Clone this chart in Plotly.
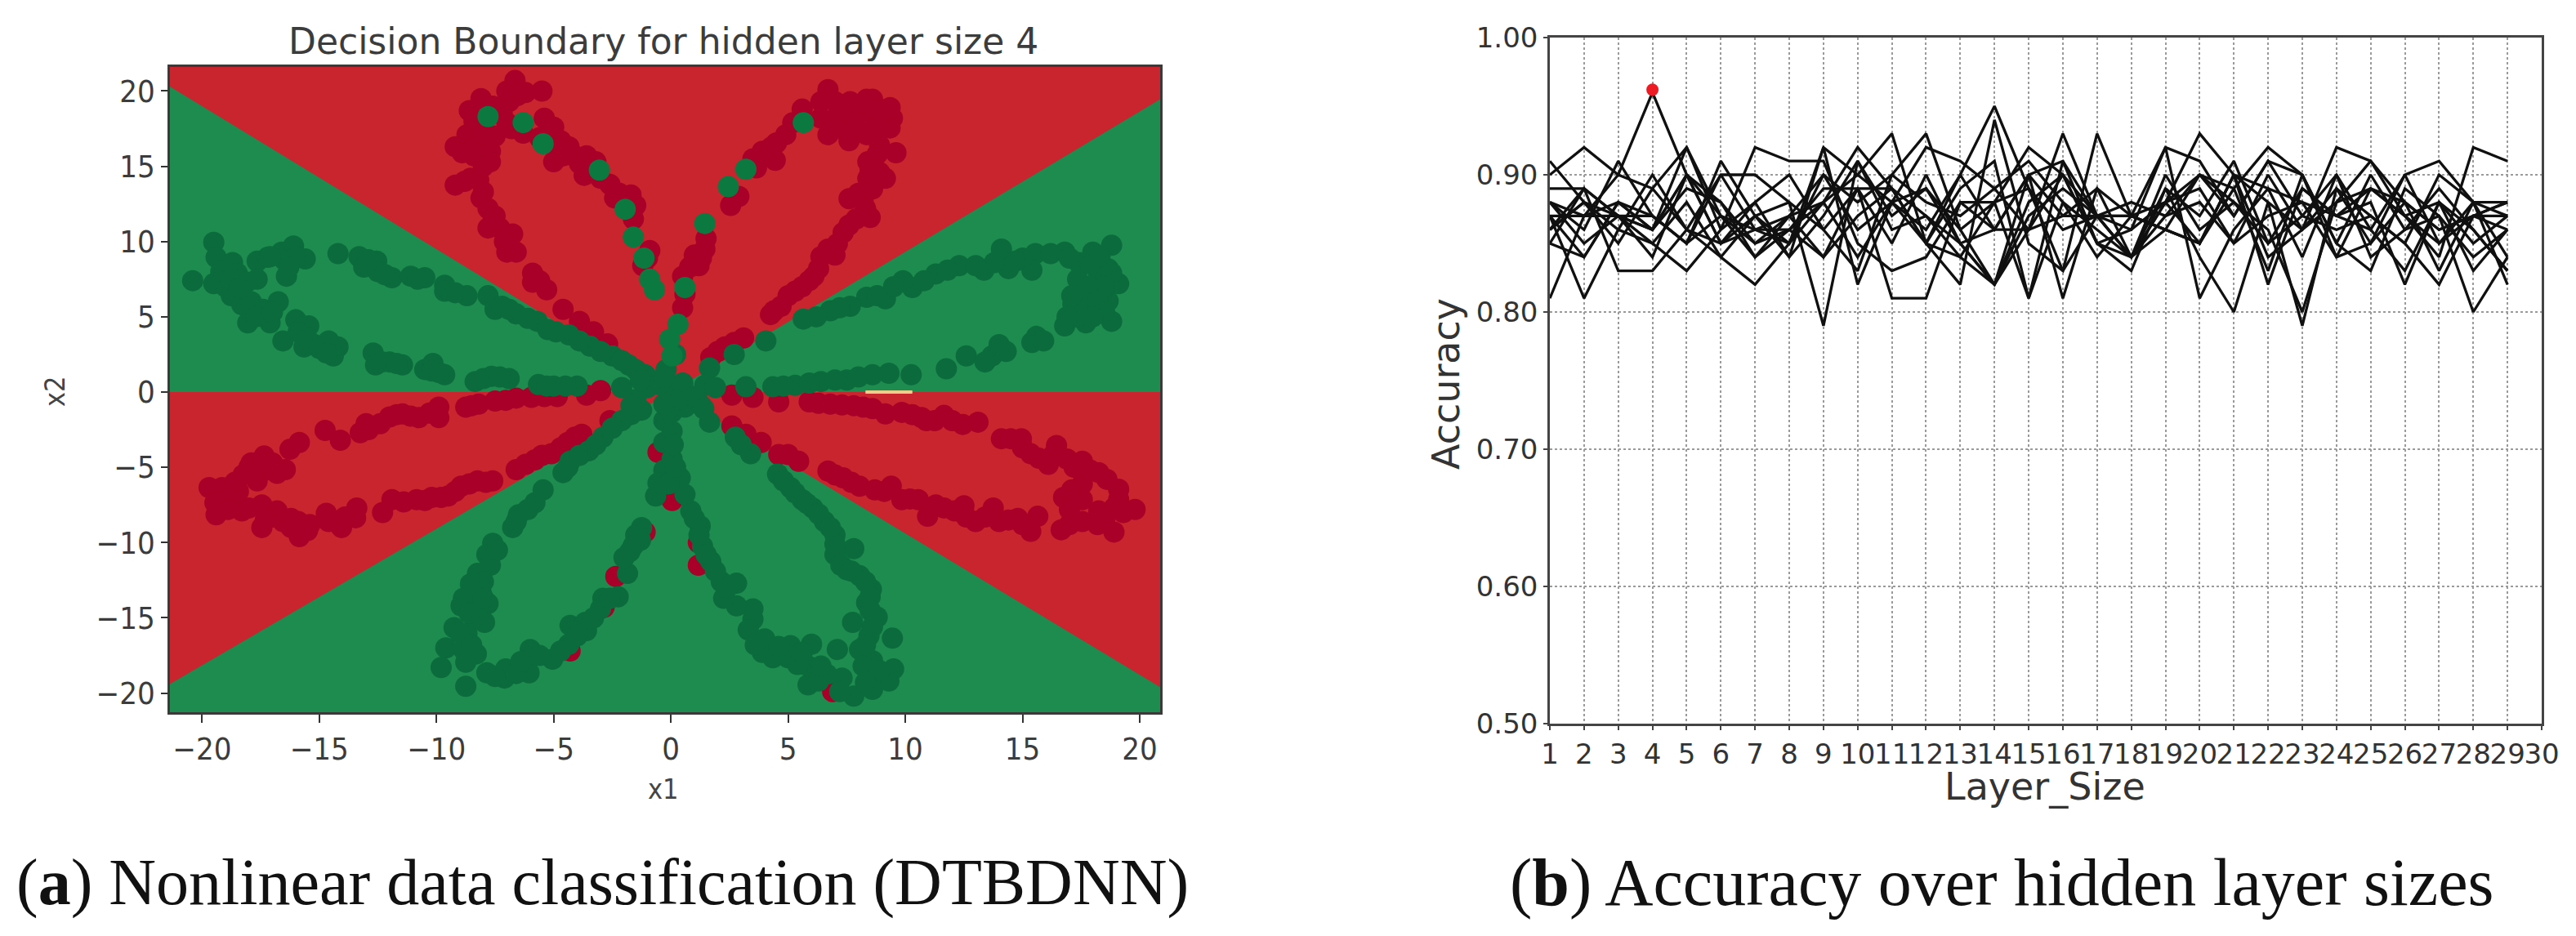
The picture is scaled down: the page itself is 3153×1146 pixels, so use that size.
import plotly.graph_objects as go

W, H = 3153, 1146

# ---- panel (a) data ----
x_ticks_a = [-20, -15, -10, -5, 0, 5, 10, 15, 20]
y_ticks_a = [-20, -15, -10, -5, 0, 5, 10, 15, 20]
x_range_a = [-21.37, 20.87]
y_range_a = [-21.27, 21.6]
title_a = "Decision Boundary for hidden layer size 4"

red_top_x = [-21.37, 0, 20.87, 20.87, -21.37]
red_top_y = [20.3, 0, 19.45, 21.6, 21.6]
red_left_x = [-21.37, 0, -21.37]
red_left_y = [0, 0, -19.4]
red_right_x = [0, 20.87, 20.87]
red_right_y = [0, 0, -19.6]
green_all_x = [-21.37, 20.87, 20.87, -21.37]
green_all_y = [-21.27, -21.27, 21.6, 21.6]
yellow_x = [8.3, 10.3]
yellow_y = [0, 0]

red_pts = [
 (-6.65,20.7),(-5.5,20.0),(-6.55,19.7),(-6.9,19.3),(-8.1,19.5),(-8.6,18.7),(-7.2,18.5),(-6.8,17.5),(-6.3,17.2),
 (-5.4,18.2),(-5.0,17.6),(-4.7,16.7),(-4.35,16.3),(-5.0,15.3),(-4.6,15.7),(-4.1,15.7),(-3.6,15.7),(-3.7,14.4),
 (-3.2,15.3),(-2.6,13.8),(-2.4,12.9),(-1.7,13.1),(-1.6,11.5),(-0.9,9.4),(-1.2,8.4),(-9.2,16.3),(-8.7,17.1),
 (-8.1,16.6),(-7.7,16.0),(-8.4,15.7),(-7.7,15.3),(-9.2,13.75),(-8.55,14.2),(-8.2,14.1),(-8.1,12.9),(-7.8,12.2),
 (-7.5,11.7),(-7.8,10.9),(-7.3,10.9),(-6.75,10.5),(-7.0,9.3),(-6.6,9.3),(-5.9,7.9),(-5.9,7.3),(-5.3,6.8),
 (-4.6,5.5),(-3.9,4.7),(-3.3,4.0),(-2.7,3.2),
 (-8.4,18.0),(-8.5,16.2),(-8.0,17.2),(-7.5,17.0),(-8.9,15.9),(-8.0,15.0),(-8.8,14.0),(-8.0,13.3),(-7.6,11.3),(-7.1,10.0),
 (-6.9,9.8),(-5.6,7.4),(-4.3,16.0),(-3.9,15.2),(-3.4,14.8),(-3.0,14.2),(-2.2,13.2),(-1.5,12.4),(-1.0,8.9),(-5.6,16.9),
 (-4.8,16.2),(-7.0,20.0),(-6.2,19.9),(-7.6,19.0),(-7.0,17.9),
 (6.7,20.1),(6.4,19.3),(7.0,19.3),(7.65,19.3),(8.35,19.45),(8.6,19.45),(9.35,18.9),(9.45,18.2),(9.35,17.55),
 (8.05,18.55),(8.6,18.2),(7.7,17.8),(6.7,18.0),(6.7,17.1),(6.4,18.2),(7.6,16.7),(8.35,17.1),(8.9,16.4),(9.6,15.9),
 (8.4,15.3),(9.15,14.2),(8.4,14.2),(8.6,13.5),(7.6,12.85),(8.2,12.75),(8.5,11.6),(7.9,11.5),(7.35,10.6),(7.1,9.85),
 (6.4,9.0),(7.0,9.1),(6.1,7.7),(5.6,7.0),(5.0,6.4),(4.7,5.7),(4.25,5.15),(5.6,18.8),(4.9,17.1),(4.5,16.55),(3.9,16.0),
 (4.45,15.4),(3.65,14.9),(2.55,12.4),(1.5,10.2),(1.45,9.5),(1.0,9.1),(1.2,8.4),(0.5,7.7),(0.5,5.6),(3.1,3.6),(2.3,3.0),(1.7,2.3),
 (7.2,18.7),(7.0,17.5),(7.9,18.0),(8.2,17.6),(8.9,18.8),(9.0,17.5),(8.8,15.8),(8.5,14.8),(8.9,14.6),(8.0,13.2),(8.3,12.2),
 (7.6,11.1),(6.7,9.5),(6.3,8.2),(5.9,7.4),(5.3,6.7),(4.4,5.4),(5.2,17.9),(4.3,16.3),(3.5,15.5),(2.9,13.0),(1.3,8.9),(0.8,8.3),
 (0.6,6.5),(2.7,3.3),(2.0,2.7),
 (-15.85,-3.35),(-16.25,-3.8),(-14.75,-2.55),(-14.1,-3.2),(-13.25,-2.7),(-13.0,-2.1),(-12.4,-2.1),(-12.0,-1.65),
 (-11.45,-1.45),(-10.75,-1.7),(-9.9,-1.0),(-9.9,-1.7),(-8.75,-1.0),(-8.2,-0.8),(-7.05,-0.55),(-5.95,-0.35),(-4.85,-0.3),
 (-3.6,-0.2),(-3.0,0.1),(-17.35,-4.25),(-17.9,-4.7),(-17.2,-5.15),(-18.25,-5.5),(-16.45,-5.15),(-17.65,-5.9),
 (-19.7,-6.35),(-19.15,-6.35),(-18.45,-6.6),(-19.45,-7.35),(-19.4,-8.15),(-18.3,-7.9),(-17.45,-7.5),(-16.8,-7.9),
 (-17.45,-9.0),(-16.55,-8.6),(-15.85,-9.6),(-15.9,-8.6),(-15.4,-8.8),(-14.7,-8.05),(-14.05,-9.0),(-13.4,-7.7),(-13.45,-8.35),
 (-12.3,-8.0),(-11.9,-7.15),(-10.85,-7.15),(-10.2,-7.0),(-9.5,-6.9),(-8.95,-6.25),(-8.25,-5.9),(-7.6,-5.9),(-6.6,-5.15),
 (-5.8,-4.5),(-5.1,-4.1),(-4.4,-3.35),(-3.8,-2.8),(-2.6,-1.9),
 (-18.0,-5.0),(-17.7,-5.2),(-18.6,-6.0),(-17.0,-4.7),(-16.8,-5.4),(-18.9,-7.0),(-18.9,-7.8),(-18.0,-7.7),(-17.0,-8.3),(-17.3,-8.5),
 (-16.2,-8.4),(-16.2,-9.0),(-15.5,-9.2),(-14.6,-8.6),(-13.9,-8.3),(-11.4,-7.3),(-10.5,-7.2),(-9.8,-7.0),(-9.2,-6.6),(-8.6,-6.1),
 (-7.9,-6.0),(-12.9,-2.5),(-11.7,-1.5),(-11.1,-1.6),(-10.3,-1.4),(-6.2,-4.8),(-5.5,-4.2),(-4.7,-3.7),(-4.1,-3.0),(-8.5,-0.9),
 (-7.5,-0.6),(-6.6,-0.4),(-5.4,-0.3),
 (-2.35,-12.25),(-4.3,-17.2),(-2.85,-14.3),(-1.1,-9.3),(-0.55,-4.0),(0.0,-6.6),
 (5.9,-0.65),(6.8,-0.8),(7.8,-0.9),(8.6,-1.1),(9.15,-1.45),(9.85,-1.35),(10.7,-1.7),(11.25,-1.9),(11.65,-1.55),(12.45,-2.15),(13.1,-2.0),
 (14.1,-3.1),(14.95,-3.1),(15.35,-4.1),(16.1,-4.8),(16.45,-3.55),(16.9,-4.45),(17.55,-4.6),(18.25,-5.35),(19.1,-6.45),(17.55,-6.1),
 (16.75,-7.0),(17.55,-7.15),(18.25,-7.9),(19.1,-7.15),(19.8,-7.8),(18.9,-9.3),(16.65,-9.15),(17.55,-8.6),(18.2,-8.8),(15.65,-8.25),
 (15.35,-9.25),(14.8,-8.4),(13.75,-7.7),(14.0,-8.6),(13.0,-8.6),(12.5,-7.55),(11.65,-7.7),(10.95,-8.25),(10.55,-7.15),(9.85,-7.15),
 (9.4,-6.25),(9.1,-6.6),(8.05,-6.25),(7.35,-5.7),(6.7,-5.25),(5.45,-4.6),(5.0,-4.15),(4.6,-4.15),(3.85,-3.35),(3.2,-2.8),(2.6,-2.25),
 (14.5,-3.1),(15.0,-3.7),(15.7,-4.4),(16.3,-4.2),(17.2,-5.0),(17.9,-5.2),(18.6,-5.8),(17.1,-6.5),(17.0,-7.8),(18.9,-7.7),(19.3,-8.0),
 (18.5,-8.5),(17.0,-8.8),(15.0,-8.8),(14.4,-8.5),(13.4,-8.3),(12.6,-8.3),(12.1,-7.9),(11.3,-7.5),(10.2,-7.1),(8.7,-6.5),(7.7,-6.0),
 (7.0,-5.5),(6.3,-0.75),(7.3,-0.85),(8.2,-1.0),(10.3,-1.5),(10.9,-1.9),(12.0,-1.9),
 (2.6,-0.2),(4.6,-0.65),(3.5,-0.35),(1.17,-11.5),(1.17,-10.0),(-0.05,-6.8),(0.05,-7.2),(6.9,-19.9),
]

green_on_red_pts = [
 (-7.8,18.3),(-6.3,17.9),(-5.45,16.5),(-3.05,14.75),(-1.95,12.15),(-1.6,10.3),(-1.15,8.9),(-0.9,7.5),(-0.7,6.8),
 (5.65,17.9),(3.2,14.8),(2.45,13.65),(1.45,11.2),(0.6,6.95),(0.3,4.5),(-0.05,3.5),(0.05,2.4),
]

green_pts = [
 (-19.5,9.95),(-19.4,8.95),(-18.7,8.6),(-20.4,7.4),(-19.5,7.2),(-19.0,7.0),(-18.5,7.9),(-17.65,8.7),(-17.65,7.5),(-18.1,7.3),
 (-17.2,8.95),(-16.6,9.3),(-16.1,9.7),(-15.6,8.85),(-16.4,7.7),(-16.5,8.8),(-14.2,9.2),(-13.3,9.0),(-12.55,8.7),(-13.1,8.3),
 (-12.5,8.0),(-11.9,7.6),(-11.1,7.7),(-10.5,7.6),(-9.65,7.1),(-9.65,6.7),(-8.7,6.4),(-7.8,6.4),(-7.5,5.5),(-6.6,5.2),(-5.7,4.7),
 (-5.25,4.15),(-4.35,3.8),(-3.45,3.05),(-2.5,2.4),(-1.8,1.8),(-1.1,1.15),
 (-18.75,6.4),(-18.3,5.8),(-17.9,6.0),(-18.05,4.6),(-17.4,5.5),(-16.75,6.0),(-17.1,4.6),(-16.0,4.8),(-15.45,4.4),(-16.55,3.4),
 (-15.65,3.0),(-15.2,3.15),(-14.6,3.4),(-14.2,3.0),(-14.4,2.4),(-12.7,2.6),(-12.6,1.8),(-12.0,2.0),(-11.45,1.8),(-10.5,1.5),
 (-10.15,1.9),(-9.65,1.15),(-8.35,0.7),(-7.65,1.05),(-6.9,0.9),(-5.65,0.5),(-5.0,0.4),(-4.0,0.4),
 (-19.2,8.0),(-18.8,7.5),(-18.4,6.9),(-17.1,9.0),(-16.0,9.0),(-16.3,8.3),(-12.9,8.8),(-12.2,7.8),(-10.8,7.5),(-9.2,6.6),(-7.2,5.7),
 (-6.9,5.5),(-6.1,4.9),(-4.9,4.0),(-3.9,3.4),(-3.0,2.7),(-2.1,2.1),(-1.5,1.5),(-17.7,5.0),(-17.0,5.3),(-15.9,4.0),(-15.5,3.5),
 (-15.0,2.9),(-14.7,2.6),(-12.3,2.0),(-11.7,1.9),(-10.2,1.4),(-9.9,1.3),(-8.0,0.9),(-7.3,1.0),(-5.3,0.4),(-4.5,0.4),
 (18.8,9.75),(18.0,9.3),(16.8,9.3),(15.55,9.2),(15.4,8.1),(14.1,9.5),(14.4,8.2),(13.35,8.1),(12.3,8.4),(11.3,7.85),(10.3,6.95),
 (9.9,7.4),(9.15,6.2),(8.35,6.3),(7.65,5.7),(6.8,5.4),(5.65,4.85),(4.05,3.4),(2.7,2.5),(1.65,1.6),
 (17.4,8.6),(18.65,8.2),(19.1,7.2),(17.35,7.5),(18.25,7.85),(18.1,6.8),(18.65,6.05),(17.7,5.7),(18.8,4.7),(17.15,5.85),(16.8,4.4),
 (17.7,4.6),(15.6,3.7),(13.7,2.4),(14.0,3.15),(12.6,2.4),(11.75,1.55),(10.25,1.15),(9.3,1.25),(8.6,1.15),(7.5,0.8),(6.4,0.7),
 (5.3,0.45),(4.35,0.35),(3.2,0.35),(1.45,0.45),(0.5,0.6),
 (17.9,8.5),(18.3,9.0),(17.0,8.9),(18.8,7.9),(18.5,7.0),(17.8,7.0),(17.6,6.3),(18.2,6.0),(18.5,5.3),(17.3,5.0),(16.9,5.0),(18.0,5.0),
 (17.1,6.4),(16.2,9.2),(15.0,8.9),(14.7,8.7),(13.8,8.6),(13.0,8.4),(11.8,8.1),(10.8,7.4),(9.5,7.0),(8.8,6.4),(7.2,5.6),(6.2,5.0),
 (15.4,3.3),(15.9,3.4),(13.4,2.0),(14.3,2.7),(8.0,1.0),(7.0,0.8),(5.9,0.6),(4.8,0.4),
 (-5.45,-6.5),(-5.8,-7.35),(-6.5,-8.15),(-6.75,-9.0),(-7.6,-10.05),(-7.85,-10.8),(-7.7,-11.5),(-8.25,-12.05),(-8.0,-12.6),(-8.55,-12.75),
 (-8.85,-13.7),(-7.8,-14.05),(-8.95,-14.2),(-8.25,-14.4),(-7.95,-15.3),(-9.25,-15.65),(-8.7,-16.05),(-9.6,-17.0),(-8.85,-17.1),
 (-8.3,-17.4),(-8.75,-17.95),(-9.8,-18.3),(-8.75,-19.55),(-7.85,-18.65),(-7.1,-19.0),(-7.05,-18.4),(-6.05,-18.65),(-6.0,-17.1),
 (-5.05,-17.75),(-4.35,-16.75),(-4.3,-15.5),(-3.65,-15.3),(-3.6,-15.85),(-2.9,-13.7),(-2.25,-13.6),(-1.85,-12.05),(-1.75,-10.6),
 (-1.25,-9.0),(-1.3,-9.85),(-0.65,-6.9),(-4.6,-5.35),(-4.3,-4.6),(-3.5,-3.9),(-2.9,-3.0),(-2.1,-1.9),(-1.25,-1.2),(-0.3,-5.2),
 (-0.3,-3.35),(-0.3,-1.9),(-0.55,-6.05),
 (-8.1,-13.3),(-8.5,-13.2),(-8.0,-13.7),(-8.4,-15.0),(-8.6,-14.7),(-9.0,-16.0),(-8.5,-16.8),(-7.5,-18.9),(-6.6,-18.7),(-5.6,-17.5),
 (-6.4,-17.9),(-4.7,-17.2),(-4.0,-16.2),(-3.3,-15.0),(-3.0,-14.4),(-2.6,-13.7),(-1.5,-9.5),(-1.6,-10.2),(-2.0,-11.0),(-7.4,-10.5),
 (-6.6,-8.6),(-6.1,-7.8),(-4.4,-5.0),(-3.9,-4.2),(-3.2,-3.5),(-2.5,-2.4),(-1.7,-1.5),
 (1.65,-2.0),(2.75,-3.0),(3.4,-4.1),(4.55,-5.45),(5.1,-6.35),(5.6,-7.15),(6.05,-7.7),(6.55,-8.6),(7.0,-9.5),(7.8,-10.4),(7.0,-10.8),
 (7.25,-11.5),(8.05,-12.2),(8.55,-13.1),(8.35,-14.0),(8.8,-14.95),(7.75,-15.3),(8.45,-16.2),(9.45,-16.35),(7.1,-17.1),(8.05,-17.1),
 (8.6,-17.85),(9.5,-18.4),(9.3,-19.2),(8.6,-18.75),(8.6,-19.75),(7.8,-20.2),(7.3,-19.0),(6.65,-18.75),(5.85,-19.45),(5.85,-18.2),
 (6.0,-16.75),(5.1,-16.85),(5.0,-17.65),(4.35,-17.65),(3.9,-17.3),(4.0,-16.4),(3.5,-15.1),(3.5,-14.4),(2.8,-14.2),(2.25,-13.7),
 (2.8,-12.7),(2.15,-12.6),(1.7,-11.25),(1.35,-10.25),(1.25,-8.9),(0.85,-7.9),(0.6,-6.8),(0.4,-5.7),(0.05,-4.45),(0.05,-2.6),
 (0.05,-1.35),(1.15,-0.6),(0.6,-1.0),
 (7.0,-10.1),(7.5,-11.8),(7.7,-11.9),(8.3,-12.6),(8.5,-13.6),(8.5,-14.5),(8.6,-15.6),(8.3,-16.8),(8.2,-18.2),(8.9,-18.5),(8.3,-19.3),
 (7.2,-19.9),(6.3,-19.2),(6.4,-18.2),(5.4,-18.1),(5.6,-17.3),(4.6,-16.9),(3.3,-15.8),(3.6,-16.8),(2.4,-13.0),(1.9,-11.9),(1.5,-10.8),
 (1.2,-9.5),(1.0,-8.4),(5.3,-6.7),(5.8,-7.4),(6.3,-8.1),(6.8,-9.0),(4.8,-5.9),(3.0,-3.5),(1.3,-0.9),(-0.1,-6.1),(0.2,-5.0),(0.1,-3.5),
 (0.0,0.0),(-0.5,0.5),(0.5,0.5),(-1.0,0.3),(1.0,-0.3),(0.3,-0.5),(-0.3,-0.8),(-1.5,-0.5),(-1.3,0.8),(1.4,-1.1),(-0.2,1.5),
 (0.2,2.5),(-0.3,1.0),(1.9,0.3),(-2.1,0.3),(-1.7,-0.9),
]

# ---- panel (b) data ----
layer_sizes = list(range(1, 30))
x_ticks_b = list(range(1, 31))
y_ticks_b = [0.5, 0.6, 0.7, 0.8, 0.9, 1.0]
best_x = [4]
best_y = [0.962]

run01 = [.81,.87,.90,.96,.90,.88,.85,.86,.88,.92,.89,.85,.90,.95,.89,.86,.87,.84,.88,.90,.88,.86,.80,.88,.91,.88,.86,.87,.88]
run02 = [.90,.92,.90,.89,.86,.85,.87,.85,.92,.90,.93,.85,.84,.88,.92,.90,.85,.86,.92,.91,.87,.91,.90,.84,.85,.90,.91,.88,.88]
run03 = [.91,.88,.85,.89,.92,.86,.92,.91,.91,.85,.83,.84,.88,.86,.86,.93,.87,.84,.88,.93,.90,.84,.86,.92,.91,.87,.84,.92,.91]
run04 = [.89,.89,.87,.86,.89,.88,.84,.86,.89,.89,.89,.85,.82,.94,.85,.83,.93,.87,.86,.85,.89,.92,.90,.85,.83,.89,.87,.80,.84]
run05 = [.87,.87,.87,.87,.85,.87,.86,.86,.84,.89,.81,.81,.88,.88,.81,.91,.85,.83,.89,.84,.80,.88,.79,.89,.87,.85,.82,.87,.87]
run06 = [.85,.84,.88,.86,.90,.85,.88,.90,.86,.83,.90,.93,.86,.82,.90,.81,.89,.87,.92,.81,.86,.89,.84,.90,.84,.86,.89,.86,.83]
run07 = [.88,.86,.91,.87,.85,.91,.87,.84,.92,.82,.88,.92,.91,.89,.91,.88,.84,.87,.86,.85,.90,.82,.89,.87,.88,.82,.88,.83,.86]
run08 = [.86,.89,.83,.83,.86,.90,.90,.88,.79,.91,.87,.89,.85,.82,.87,.89,.87,.88,.87,.88,.85,.87,.88,.84,.89,.88,.83,.88,.82]
run09 = [.87,.81,.86,.85,.88,.84,.82,.85,.90,.88,.90,.88,.87,.89,.86,.87,.89,.84,.89,.87,.91,.85,.87,.90,.86,.90,.85,.88,.84]
run10 = [.85,.89,.87,.85,.83,.86,.88,.84,.87,.91,.86,.87,.85,.82,.86,.90,.87,.87,.88,.85,.90,.89,.88,.87,.89,.87,.88,.86,.83]
run11 = [.88,.87,.88,.86,.92,.87,.85,.87,.88,.84,.88,.89,.86,.88,.89,.83,.87,.84,.86,.90,.89,.83,.90,.85,.90,.86,.87,.84,.86]
run12 = [.86,.88,.86,.90,.86,.84,.87,.88,.86,.89,.85,.90,.85,.86,.90,.91,.87,.86,.88,.89,.85,.90,.86,.89,.85,.88,.86,.87,.88]
run13 = [.87,.84,.88,.87,.85,.90,.86,.85,.88,.90,.88,.85,.89,.91,.81,.88,.86,.84,.90,.86,.88,.85,.89,.87,.86,.83,.88,.85,.87]
run14 = [.88,.85,.87,.86,.90,.85,.86,.87,.84,.87,.89,.87,.84,.82,.88,.90,.85,.84,.87,.90,.87,.91,.87,.86,.87,.85,.90,.88,.87]
run15 = [.86,.88,.87,.84,.90,.87,.84,.87,.90,.86,.88,.86,.90,.86,.90,.87,.87,.87,.86,.85,.90,.88,.86,.88,.89,.87,.85,.87,.86]
runs = [run01, run02, run03, run04, run05, run06, run07, run08, run09, run10, run11, run12, run13, run14, run15]

# ---- styles ----
RED_BG, GREEN_BG = "#C8252E", "#1E8B4F"
RED_DOT, GREEN_DOT, GREEN_DOT2 = "#A80028", "#0B6B3C", "#0C7A40"
SANS = "DejaVu Sans"
COND = "DejaVu Sans Condensed"
SERIF = "Liberation Serif"

fig = go.Figure()

def poly(xs, ys, color):
    fig.add_trace(go.Scatter(x=xs, y=ys, mode="none", fill="toself", fillcolor=color,
                             xaxis="x", yaxis="y", hoverinfo="skip", showlegend=False))

poly(green_all_x, green_all_y, GREEN_BG)
poly(red_top_x, red_top_y, RED_BG)
poly(red_left_x, red_left_y, RED_BG)
poly(red_right_x, red_right_y, RED_BG)
fig.add_trace(go.Scatter(x=yellow_x, y=yellow_y, mode="lines", line=dict(color="#E9CF8C", width=4),
                         xaxis="x", yaxis="y", showlegend=False))

def dots(pts, color):
    fig.add_trace(go.Scatter(x=[p[0] for p in pts], y=[p[1] for p in pts], mode="markers",
                             marker=dict(color=color, size=26, line=dict(width=0)),
                             xaxis="x", yaxis="y", showlegend=False))

dots(red_pts, RED_DOT)
dots(green_pts, GREEN_DOT)
dots(green_on_red_pts, GREEN_DOT2)

for r in runs:
    fig.add_trace(go.Scatter(x=layer_sizes, y=r, mode="lines", line=dict(color="#101010", width=3.3),
                             xaxis="x2", yaxis="y2", showlegend=False))
fig.add_trace(go.Scatter(x=best_x, y=best_y, mode="markers", marker=dict(color="#ED1C24", size=15),
                         xaxis="x2", yaxis="y2", showlegend=False))

def note(text, px, py, family, size, color, angle=0):
    return dict(text=text, xref="paper", yref="paper", x=px/W, y=1-py/H, xanchor="center", yanchor="middle",
                showarrow=False, textangle=angle, font=dict(family=family, size=size, color=color))

fig.update_layout(
    width=W, height=H, margin=dict(l=0, r=0, t=0, b=0, autoexpand=False),
    paper_bgcolor="white", plot_bgcolor="white", showlegend=False,
    xaxis=dict(domain=[208/W, 1420/W], range=x_range_a, tickmode="array", tickvals=x_ticks_a, tickangle=0,
               automargin=False, ticks="outside", ticklen=10, tickwidth=2, tickcolor="#333", showgrid=False, zeroline=False,
               showline=True, linecolor="#3a3a3a", linewidth=2.5, mirror=True, anchor="y",
               tickfont=dict(family=COND, size=38, color="#3c3c3c")),
    yaxis=dict(domain=[1-872/H, 1-82/H], range=y_range_a, tickmode="array", tickvals=y_ticks_a,
               automargin=False, ticks="outside", ticklen=8, tickwidth=2, tickcolor="#333", showgrid=False, zeroline=False,
               showline=True, linecolor="#3a3a3a", linewidth=2.5, mirror=True, anchor="x",
               tickfont=dict(family=COND, size=38, color="#3c3c3c")),
    xaxis2=dict(domain=[1897/W, 3111/W], range=[1, 30], tickmode="array", tickvals=x_ticks_b, tickangle=0,
                automargin=False, ticks="outside", ticklen=5, tickwidth=1.5, tickcolor="#444",
                showgrid=True, gridcolor="#9a9a9a", gridwidth=1.5, griddash="dot", zeroline=False,
                showline=True, linecolor="#444", linewidth=2.5, mirror=True, anchor="y2",
                tickfont=dict(family=SANS, size=34, color="#333")),
    yaxis2=dict(domain=[1-886/H, 1-46/H], range=[0.5, 1.0], tickmode="array", tickvals=y_ticks_b,
                automargin=False, tickformat=".2f", ticks="outside", ticklen=5, tickwidth=1.5, tickcolor="#444",
                showgrid=True, gridcolor="#9a9a9a", gridwidth=1.5, griddash="dot", zeroline=False,
                showline=True, linecolor="#444", linewidth=2.5, mirror=True, anchor="x2",
                tickfont=dict(family=SANS, size=34, color="#333")),
    annotations=[
        note(title_a, 812, 50, SANS, 44, "#3c3c3c"),
        note("x1", 812, 966, COND, 34, "#444"),
        note("x2", 67, 479, COND, 34, "#444", -90),
        note("Layer_Size", 2503, 963, SANS, 46, "#333"),
        note("Accuracy", 1770, 470, SANS, 46, "#333", -90),
        note("(<b>a</b>) Nonlinear data classification (DTBDNN)", 737, 1080, SERIF, 80, "#111"),
        note("(<b>b</b>) Accuracy over hidden layer sizes", 2450, 1080, SERIF, 82, "#111"),
    ],
)

fig.write_html("out.html", config=dict(displayModeBar=False), post_script="document.body.style.margin='0';")
